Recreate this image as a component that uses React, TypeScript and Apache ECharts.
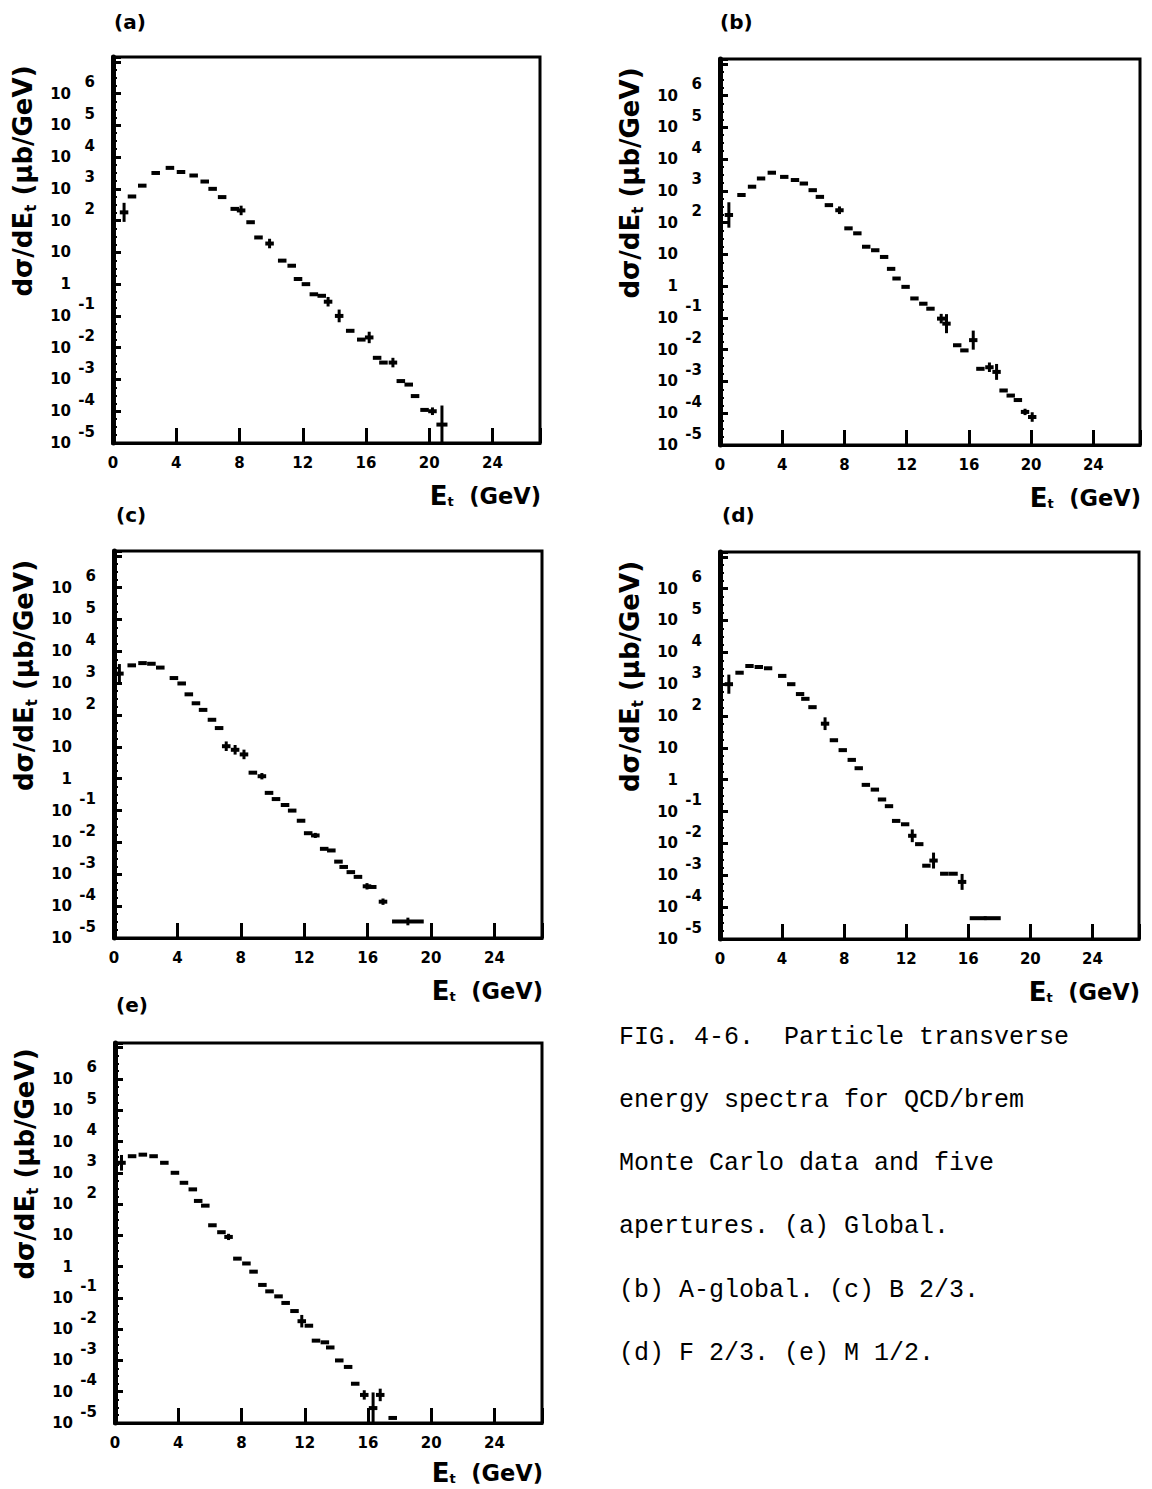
import React, { useEffect, useRef } from 'react';
import * as echarts from 'echarts';

// ---------- data (E_t bin centre in GeV, dσ/dE_t in μb/GeV, vertical error half-size in decades, bin half-width in GeV) ----------
const aE = [0.7, 1.2, 1.85, 2.7, 3.6, 4.3, 5.1, 5.8, 6.3, 6.9, 7.7, 8.1, 8.7, 9.2, 9.9, 10.7, 11.3, 11.7, 12.2, 12.7, 13.2, 13.6, 14.3, 15.0, 15.7, 16.2, 16.7, 17.1, 17.7, 18.2, 18.7, 19.1, 19.7, 20.2, 20.8];
const aV = [182, 575, 1260, 3160, 4570, 3390, 2630, 1700, 1000, 550, 234, 209, 89, 29.5, 19, 5.5, 3.8, 1.45, 1.0, 0.48, 0.43, 0.28, 0.1, 0.034, 0.018, 0.021, 0.0048, 0.0034, 0.0034, 0.00089, 0.00069, 0.0003, 0.00011, 0.0001, 0.000038];
const aErr = [0.3, 0, 0, 0, 0, 0, 0, 0, 0, 0, 0, 0.15, 0, 0, 0.15, 0, 0, 0, 0, 0, 0, 0.15, 0.2, 0, 0, 0.18, 0, 0, 0.15, 0, 0, 0, 0, 0.12, 0.6];
const aHw = [0.27, 0.27, 0.27, 0.27, 0.27, 0.27, 0.27, 0.27, 0.27, 0.27, 0.27, 0.27, 0.27, 0.27, 0.27, 0.27, 0.27, 0.27, 0.27, 0.27, 0.27, 0.27, 0.27, 0.27, 0.27, 0.27, 0.27, 0.27, 0.27, 0.27, 0.27, 0.27, 0.27, 0.27, 0.35];

const bE = [0.57, 1.38, 2.06, 2.64, 3.33, 4.13, 4.82, 5.39, 5.96, 6.42, 7.0, 7.68, 8.26, 8.83, 9.4, 9.98, 10.55, 11.0, 11.35, 11.93, 12.5, 13.07, 13.53, 14.22, 14.56, 15.25, 15.71, 16.28, 16.74, 17.32, 17.78, 18.23, 18.69, 19.15, 19.61, 20.07];
const bV = [174, 741, 1350, 2450, 3720, 2750, 2190, 1700, 1050, 646, 355, 245, 66, 46, 17.4, 13.5, 8.3, 3.5, 1.74, 0.95, 0.41, 0.28, 0.195, 0.095, 0.066, 0.0138, 0.0095, 0.02, 0.0025, 0.0028, 0.002, 0.00052, 0.00036, 0.00026, 0.00011, 0.000076];
const bErr = [0.4, 0, 0, 0, 0, 0, 0, 0, 0, 0, 0, 0.12, 0, 0, 0, 0, 0, 0, 0, 0, 0, 0, 0, 0.15, 0.3, 0, 0, 0.3, 0, 0.15, 0.25, 0, 0, 0, 0.1, 0.15];
const bHw = [0.27, 0.27, 0.27, 0.27, 0.27, 0.27, 0.27, 0.27, 0.27, 0.27, 0.27, 0.27, 0.27, 0.27, 0.27, 0.27, 0.27, 0.27, 0.27, 0.27, 0.27, 0.27, 0.27, 0.27, 0.27, 0.27, 0.27, 0.27, 0.27, 0.27, 0.27, 0.27, 0.27, 0.27, 0.27, 0.27];

const cE = [0.34, 1.12, 1.8, 2.36, 2.92, 3.78, 4.27, 4.72, 5.17, 5.62, 6.18, 6.63, 7.08, 7.64, 8.2, 8.76, 9.33, 9.78, 10.22, 10.79, 11.24, 11.8, 12.25, 12.7, 13.26, 13.71, 14.16, 14.49, 14.94, 15.39, 15.96, 16.29, 16.97, 18.54];
const cV = [2000, 3630, 4270, 4070, 3090, 1450, 980, 447, 234, 145, 71, 39, 10.5, 8.1, 5.8, 1.55, 1.2, 0.36, 0.23, 0.15, 0.1, 0.048, 0.0195, 0.0166, 0.0063, 0.0056, 0.0025, 0.0017, 0.00117, 0.00083, 0.00042, 0.0004, 0.000138, 0.000033];
const cErr = [0.3, 0, 0, 0, 0, 0, 0, 0, 0, 0, 0, 0, 0.15, 0.15, 0.15, 0, 0.1, 0, 0, 0, 0, 0, 0, 0.08, 0, 0, 0, 0, 0, 0, 0.1, 0, 0.1, 0.12];
const cHw = [0.27, 0.27, 0.27, 0.27, 0.27, 0.27, 0.27, 0.27, 0.27, 0.27, 0.27, 0.27, 0.27, 0.27, 0.27, 0.27, 0.27, 0.27, 0.27, 0.27, 0.27, 0.27, 0.27, 0.27, 0.27, 0.27, 0.27, 0.27, 0.27, 0.27, 0.27, 0.27, 0.27, 1.0];

const dE = [0.57, 1.26, 1.9, 2.5, 3.1, 4.01, 4.59, 5.16, 5.5, 5.96, 6.77, 7.34, 7.91, 8.49, 8.94, 9.4, 9.98, 10.44, 10.89, 11.35, 11.93, 12.39, 12.84, 13.3, 13.76, 14.45, 15.02, 15.6, 17.09];
const dV = [1000, 2290, 3720, 3470, 3160, 1820, 1000, 490, 347, 190, 57.5, 17.4, 8.5, 4.2, 2.3, 0.69, 0.49, 0.24, 0.148, 0.051, 0.04, 0.0174, 0.0095, 0.002, 0.0029, 0.00112, 0.00112, 0.00062, 0.000045];
const dErr = [0.3, 0, 0, 0, 0, 0, 0, 0, 0, 0, 0.2, 0, 0, 0, 0, 0, 0, 0, 0, 0, 0, 0.2, 0, 0, 0.25, 0, 0, 0.25, 0.06];
const dHw = [0.27, 0.27, 0.27, 0.27, 0.27, 0.27, 0.27, 0.27, 0.27, 0.27, 0.27, 0.27, 0.27, 0.27, 0.27, 0.27, 0.27, 0.27, 0.27, 0.27, 0.27, 0.27, 0.27, 0.27, 0.27, 0.27, 0.3, 0.27, 1.0];

const eE = [0.41, 1.08, 1.76, 2.44, 3.12, 3.79, 4.36, 4.92, 5.26, 5.71, 6.16, 6.73, 7.18, 7.74, 8.31, 8.76, 9.32, 9.77, 10.34, 10.79, 11.35, 11.81, 12.26, 12.71, 13.27, 13.61, 14.18, 14.74, 15.19, 15.76, 16.32, 16.77, 17.56];
const eV = [2090, 3390, 3800, 3390, 2090, 1000, 479, 295, 126, 89, 21, 12.6, 8.9, 1.8, 1.26, 0.69, 0.26, 0.162, 0.112, 0.069, 0.038, 0.018, 0.0129, 0.0043, 0.0038, 0.0026, 0.001, 0.00062, 0.00018, 0.000079, 0.00003, 0.000079, 0.0000145];
const eErr = [0.25, 0, 0, 0, 0, 0, 0, 0, 0, 0, 0, 0, 0.1, 0, 0, 0, 0, 0, 0, 0, 0, 0.2, 0, 0, 0, 0, 0, 0, 0, 0.15, 0.5, 0.2, 0];
const eHw = [0.27, 0.27, 0.27, 0.27, 0.27, 0.27, 0.27, 0.27, 0.27, 0.27, 0.27, 0.27, 0.27, 0.27, 0.27, 0.27, 0.27, 0.27, 0.27, 0.27, 0.27, 0.27, 0.27, 0.27, 0.27, 0.27, 0.27, 0.27, 0.27, 0.27, 0.27, 0.27, 0.27];

const panelTags = ['(a)', '(b)', '(c)', '(d)', '(e)'];
const xMin = 0;
const xMax = 27;
const xStep = 4;
const yMinExp = -5;
const yMaxExp = 7.15;
const yTopLabelExp = 6;

const captionLines = [
  'FIG. 4-6.  Particle transverse',
  'energy spectra for QCD/brem',
  'Monte Carlo data and five',
  'apertures. (a) Global.',
  '(b) A-global. (c) B 2/3.',
  '(d) F 2/3. (e) M 1/2.',
];

// ---------- layout ----------
const W = 1152;
const H = 1489;
const FONT = '"DejaVu Sans", sans-serif';

const panelData = [
  { E: aE, V: aV, err: aErr, hw: aHw },
  { E: bE, V: bV, err: bErr, hw: bHw },
  { E: cE, V: cV, err: cErr, hw: cHw },
  { E: dE, V: dV, err: dErr, hw: dHw },
  { E: eE, V: eV, err: eErr, hw: eHw },
];

const layouts = [
  { grid: { left: 113, top: 57, width: 427, height: 386 }, tag: [114, 22] },
  { grid: { left: 720, top: 59, width: 420, height: 386 }, tag: [720, 22] },
  { grid: { left: 114, top: 551, width: 428, height: 387 }, tag: [116, 515] },
  { grid: { left: 720, top: 552, width: 419, height: 387 }, tag: [722, 515] },
  { grid: { left: 115, top: 1043, width: 427, height: 380 }, tag: [116, 1005] },
];

function yLabel(v: number): string {
  const n = Math.round(v);
  if (Math.abs(v - n) > 1e-6 || n > yTopLabelExp) return '';
  if (n === 0) return '{b|1}{e| }';
  if (n === 1) return '{b|10}{e| }';
  return '{b|10}{e|' + (n < 0 ? '-' + String(-n) : String(n)) + '}';
}

function renderItem(params: any, api: any) {
  const x = api.value(0);
  const y = api.value(1);
  const hw = api.value(2);
  const e = api.value(3);
  const l = api.coord([x - hw, y]);
  const r = api.coord([x + hw, y]);
  const children: any[] = [
    {
      type: 'line',
      shape: { x1: l[0], y1: l[1], x2: r[0], y2: r[1] },
      style: { stroke: '#000', lineWidth: 4 },
    },
  ];
  if (e > 0) {
    const t = api.coord([x, y + e]);
    const b = api.coord([x, y - e]);
    children.push({
      type: 'line',
      shape: { x1: t[0], y1: t[1], x2: b[0], y2: b[1] },
      style: { stroke: '#000', lineWidth: 3 },
    });
  }
  return { type: 'group', children };
}

function buildOption() {
  const grids: any[] = [];
  const xAxes: any[] = [];
  const yAxes: any[] = [];
  const series: any[] = [];
  const graphics: any[] = [];

  panelData.forEach((p, i) => {
    const lay = layouts[i];
    const g = lay.grid;
    grids.push({
      ...g,
      show: true,
      borderColor: '#000',
      borderWidth: 3,
      backgroundColor: 'transparent',
    });
    xAxes.push({
      type: 'value',
      gridIndex: i,
      min: xMin,
      max: xMax,
      interval: xStep,
      axisLine: { show: true, onZero: false, lineStyle: { color: '#000', width: 3 } },
      axisTick: { show: true, inside: true, length: 15, lineStyle: { color: '#000', width: 3 } },
      axisLabel: {
        margin: 12,
        color: '#000',
        fontFamily: FONT,
        fontWeight: 'bold',
        fontSize: 15,
        formatter: (v: number) => (v % xStep === 0 ? String(v) : ''),
      },
      splitLine: { show: false },
    });
    yAxes.push({
      type: 'value',
      gridIndex: i,
      min: yMinExp,
      max: yMaxExp,
      interval: 1,
      axisLine: { show: true, onZero: false, lineStyle: { color: '#000', width: 5 } },
      axisTick: { show: true, inside: true, length: 8, lineStyle: { color: '#000', width: 3 } },
      minorTick: { show: true, splitNumber: 4, length: 4, lineStyle: { color: '#000', width: 2 } },
      axisLabel: {
        margin: 18,
        formatter: yLabel,
        rich: {
          b: { color: '#000', fontFamily: FONT, fontWeight: 'bold', fontSize: 15, lineHeight: 38 },
          e: { color: '#000', fontFamily: FONT, fontWeight: 'bold', fontSize: 15, lineHeight: 15, verticalAlign: 'top', width: 24, align: 'right' },
        },
      },
      splitLine: { show: false },
      name: 'dσ/dE{s|t} (μb/GeV)',
      nameLocation: 'middle',
      nameGap: 75,
      nameTextStyle: {
        color: '#000',
        fontFamily: FONT,
        fontWeight: 'bold',
        fontSize: 26,
        lineHeight: 30,
        padding: [0, 0, 0, 138],
        rich: {
          s: { color: '#000', fontFamily: FONT, fontWeight: 'bold', fontSize: 15, lineHeight: 15, verticalAlign: 'bottom' },
        },
      },
    });
    series.push({
      type: 'custom',
      xAxisIndex: i,
      yAxisIndex: i,
      clip: true,
      silent: true,
      renderItem,
      encode: { x: 0, y: 1 },
      data: p.E.map((e, k) => [e, Math.log10(p.V[k]), p.hw[k], p.err[k]]),
    });
    graphics.push({
      type: 'text',
      x: lay.tag[0],
      y: lay.tag[1],
      style: {
        text: panelTags[i],
        fontFamily: FONT,
        fontWeight: 'bold',
        fontSize: 20,
        fill: '#000',
        verticalAlign: 'middle',
        align: 'left',
      },
    });
    graphics.push({
      type: 'text',
      x: g.left + g.width + 1,
      y: Math.min(g.top + g.height + 53, H - 16),
      style: {
        text: '{E|E}{s|t}  (GeV)',
        fontFamily: FONT,
        fontWeight: 'bold',
        fontSize: 22.5,
        lineHeight: 24,
        fill: '#000',
        align: 'right',
        verticalAlign: 'middle',
        rich: {
          E: { fontFamily: FONT, fontWeight: 'bold', fontSize: 26, lineHeight: 24, fill: '#000' },
          s: { fontFamily: FONT, fontWeight: 'bold', fontSize: 13, lineHeight: 13, verticalAlign: 'bottom', fill: '#000' },
        },
      },
    });
  });

  captionLines.forEach((line, i) => {
    graphics.push({
      type: 'text',
      x: 619,
      y: 1037 + i * 63.3,
      style: {
        text: line,
        fontFamily: '"Liberation Mono", monospace',
        fontSize: 25,
        fill: '#000',
        verticalAlign: 'middle',
        align: 'left',
      },
    });
  });

  return {
    animation: false,
    backgroundColor: '#fff',
    grid: grids,
    xAxis: xAxes,
    yAxis: yAxes,
    series,
    graphic: graphics,
  };
}

export default function App() {
  const ref = useRef<HTMLDivElement>(null);
  useEffect(() => {
    if (!ref.current) return;
    const chart = echarts.init(ref.current, null, { renderer: 'svg' });
    chart.setOption(buildOption() as any);
    return () => {
      chart.dispose();
    };
  }, []);
  return (
    <div
      ref={ref}
      style={{ position: 'absolute', left: 0, top: 0, width: W, height: H, background: '#fff' }}
    />
  );
}
